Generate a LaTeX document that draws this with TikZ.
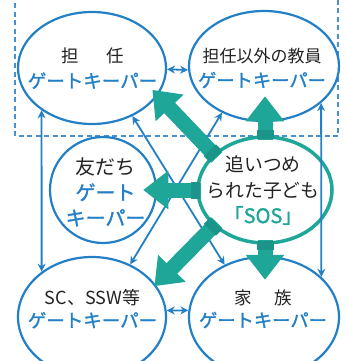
\documentclass[tikz,border=0pt]{standalone}
\usepackage{fontspec}
\setmainfont{Noto Sans CJK JP}
\newfontfamily\jpb[FakeBold=1.3]{Noto Sans CJK JP}
\usetikzlibrary{shapes.geometric,arrows.meta,calc}
\definecolor{gkblue}{RGB}{35,128,198}
\definecolor{gkteal}{RGB}{30,166,152}
\definecolor{gkdash}{RGB}{70,145,210}
\definecolor{gktext}{RGB}{35,35,35}
\tikzset{
  gk/.style={ellipse, draw=gkblue, fill=white, line width=2.2pt, inner sep=0pt},
  kid/.style={ellipse, draw=gkteal, fill=white, line width=3.5pt, inner sep=0pt},
  frame/.style={draw=gkdash, line width=2pt, dash pattern=on 5pt off 3.5pt},
  thinarr/.style={draw=gkblue, line width=1.8pt,
    {Stealth[length=8pt,width=8pt]}-{Stealth[length=8pt,width=8pt]}},
  bigarr/.style={draw=gkteal, line width=15pt, -{Triangle[width=37pt,length=25pt]}},
  bigblock/.style={draw=gkteal!90!black, line width=17pt},
  txt/.style={align=center, text=gktext, inner sep=0pt},
}
\begin{document}
\begin{tikzpicture}[x=1pt,y=-1pt]
\useasboundingbox (0,0) rectangle (346,361);
\fill[white] (0,0) rectangle (346,361);
% dashed frame (school organisation)
\draw[frame] (15,-5) -- (15,136) -- (338,136) -- (338,-5);
% ellipses
\node[gk, minimum width=148pt, minimum height=112pt] (tl) at (92,68) {};
\node[gk, minimum width=150pt, minimum height=110pt] (tr) at (264,66) {};
\node[gk, circle, minimum size=106pt] (fr) at (103,190) {};
\node[kid, minimum width=134pt, minimum height=106pt] (ch) at (265,190) {};
\node[gk, minimum width=148pt, minimum height=120pt] (sc) at (92,317) {};
\node[gk, minimum width=150pt, minimum height=120pt] (fa) at (264,317) {};
% thin blue connectors
\draw[thinarr] (tl.-1.5) -- (tr.-177);
\draw[thinarr] (sc.5) -- (fa.175);
\draw[thinarr] (tl.220) -- (sc.138.5);
\draw[thinarr] (tr.-33.2) -- (fa.35.5);
\draw[thinarr] (tl.-50.6) -- (fa.127.9);
\draw[thinarr] (tr.228.5) -- (sc.54.3);
% thick teal arrows
\coordinate (tU) at ($(ch.north)+(0,-39)$);
\coordinate (tD) at ($(ch.south)+(0,35)$);
\coordinate (tL) at ($(ch.west)+(-53,0)$);
\coordinate (tUL) at ($(ch.145)+(-61,-64)$);
\coordinate (tDL) at ($(ch.215)+(-59,60)$);
\foreach \src/\dst in {ch.north/tU, ch.south/tD, ch.west/tL, ch.145/tUL, ch.215/tDL}{
  \draw[bigarr] ($(\src)!-5pt!(\dst)$) -- (\dst);
  \draw[bigblock] ($(\src)!-4pt!(\dst)$) -- ($(\src)!5pt!(\dst)$);
}
% texts
\node[txt, font=\fontsize{17.5}{25}\selectfont] (tlT) at ($(tl)+(0.5,0.5)$)
  {担\hspace{28pt}任\\{\jpb\fontsize{18.5}{25}\selectfont\color{gkblue}ゲートキーパー}};
\node[txt, font=\fontsize{17}{25}\selectfont] (trT) at ($(tr)+(-2,2)$)
  {担任以外の教員\\{\jpb\fontsize{18.3}{25}\selectfont\color{gkblue}ゲートキーパー}};
\node[txt, font=\fontsize{20}{25.5}\selectfont] (frT) at ($(fr)+(2.5,2)$)
  {友だち\\{\jpb\color{gkblue}ゲート}\\{\jpb\color{gkblue}キーパー}};
\node[txt, font=\fontsize{18.8}{26}\selectfont] (chT) at ($(ch)+(-2,0)$)
  {追いつめ\\られた子ども\\{\jpb\fontsize{20}{26}\selectfont\color{gkteal}「SOS」}};
\node[txt, font=\fontsize{18}{22.5}\selectfont] (scT) at ($(sc)+(0.5,-8)$)
  {SC、SSW等\\{\jpb\fontsize{18.5}{22.5}\selectfont\color{gkblue}ゲートキーパー}};
\node[txt, font=\fontsize{17.5}{22.5}\selectfont] (faT) at ($(fa)+(-1,-8)$)
  {家\hspace{23pt}族\\{\jpb\fontsize{18.3}{22.5}\selectfont\color{gkblue}ゲートキーパー}};
\end{tikzpicture}
\end{document}
